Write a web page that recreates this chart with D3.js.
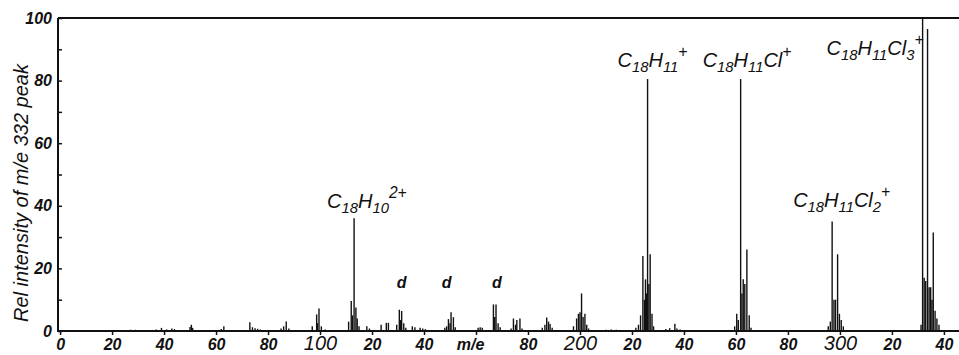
<!DOCTYPE html>
<html>
<head>
<meta charset="utf-8">
<script src="https://cdn.jsdelivr.net/npm/d3@7"></script>
<style>
  body { margin: 0; background: #fff; }
  svg { display: block; }
  text { font-family: "Liberation Sans", Arial, sans-serif; font-style: italic; fill: #111; }
</style>
</head>
<body>
<div id="chart"></div>
<script>
// peak positions (m/e) and relative intensities
const masses = [
  27, 29, 37, 39, 41, 43, 44, 50, 50.5, 51, 62, 63,
  73, 74, 75, 76, 77, 85, 86, 87, 88,
  97, 98.7, 99, 99.6, 100.5, 102,
  111, 112, 112.5, 113.1, 113.8, 114.3, 115,
  118, 119, 123.5, 125.5, 126.3,
  129.5, 130.5, 131, 131.4, 132.2, 133,
  135.5, 136.5, 138.5, 139.5, 140.5,
  148, 148.7, 149.4, 150, 150.4, 151.3, 152,
  160.8, 161.6, 162.4,
  166.7, 167.2, 167.7, 168.5, 169.3,
  173.5, 174.4, 175.2, 175.7, 176.9, 177.7,
  185.5, 186.5, 187.2, 187.9, 188.5, 189.3,
  197.5, 198.7, 199.4, 200, 200.6, 201.2, 201.9, 202.6, 203.3,
  210, 212, 214,
  221.5, 222.5, 223.3, 224.2, 224.8, 225.2, 225.6, 226.0, 226.5, 227, 227.7, 228.3,
  233, 234.5, 236.5, 237.3, 238.5,
  259.5, 260.3, 260.9, 261.8, 262.3, 262.8, 263.4, 264.2, 265.1, 265.8,
  295.5, 296.3, 297.0, 297.7, 298.3, 299.1, 299.8, 300.5, 301.3,
  331.2, 331.8, 332.4, 333.0, 333.7, 334.3, 334.9, 335.4, 335.9, 336.6, 337.3, 338.1
];
const intensities = [
  0.4, 0.4, 0.5, 1.0, 0.5, 0.8, 0.6, 1.3, 2.0, 1.0, 0.6, 1.5,
  2.8, 1.2, 0.9, 0.7, 0.5, 0.8, 1.5, 3.0, 0.8,
  1.5, 5.3, 2.5, 7.2, 1.5, 0.5,
  3, 9.6, 5, 36, 7.5, 4, 1.5,
  1.5, 0.8, 2, 2.6, 2.6,
  2, 6.8, 3.5, 6.4, 2.5, 1,
  1.5, 1.2, 1, 0.8, 0.6,
  1, 1.5, 3.8, 2.5, 6, 4.4, 1.2,
  1, 1.2, 1,
  8.5, 4.5, 8.5, 2.5, 1.2,
  0.8, 4, 2, 3.5, 4, 0.8,
  1, 2, 4.3, 3, 2.2, 1,
  1.5, 4, 5.5, 6, 12, 4.5, 5.5, 2, 0.8,
  0.4, 0.5, 0.4,
  1, 2, 5, 24, 10, 16.5, 12, 80.5, 15, 24.5, 5.5, 1.5,
  0.6, 0.9, 2.3, 0.8, 0.5,
  1.5, 5.5, 3.5, 80.5, 12, 16.5, 15, 26, 5, 1,
  1.5, 3, 35, 10, 10, 24.5, 5.5, 3.5, 1.5,
  2, 100, 17, 16, 96.5, 14, 14, 10, 31.5, 6.5, 4, 2
];

const xTicks = d3.range(0, 341, 20);
const xTickLabels = ["0", "20", "40", "60", "80", "100", "20", "40", "m/e",
                     "80", "200", "20", "40", "60", "80", "300", "20", "40"];
const yTicks = [0, 20, 40, 60, 80, 100];

const ionLabels = ["C18H10^2+", "C18H11+", "C18H11Cl+", "C18H11Cl2+", "C18H11Cl3+"];
const ionMasses = [113.1, 226.0, 261.8, 297.0, 331.8];
const dMasses = [131.4, 148.7, 168];

const width = 959, height = 355;
const margin = { top: 18, left: 58, bottom: 24 };

const x = d3.scaleLinear().domain([-0.8, 345.8]).range([margin.left, width]);
const y = d3.scaleLinear().domain([0, 100]).range([height - margin.bottom, margin.top]);

const svg = d3.select('#chart').append('svg')
  .attr('width', width)
  .attr('height', height);

// spectrum lines
svg.append('g')
  .selectAll('line')
  .data(masses.map((m, i) => ({ m, v: intensities[i] })))
  .join('line')
  .attr('x1', d => x(d.m))
  .attr('x2', d => x(d.m))
  .attr('y1', y(0))
  .attr('y2', d => y(d.v))
  .attr('stroke', '#111')
  .attr('stroke-width', 1.4);

const big = d => d % 100 === 0 && d > 0;

// x axis
svg.append('g')
  .attr('transform', `translate(0,${y(0)})`)
  .call(d3.axisBottom(x).tickValues(xTicks).tickSize(4).tickFormat((d, i) => xTickLabels[i]))
  .call(g => g.select('.domain').attr('stroke', '#111').attr('stroke-width', 2).attr('d', `M${margin.left},0H${width}`))
  .call(g => g.selectAll('.tick line').attr('stroke', '#111').attr('stroke-width', 1.5))
  .call(g => g.selectAll('.tick text')
    .attr('fill', '#111')
    .attr('dy', null)
    .attr('y', 19)
    .style('font-family', '"Liberation Sans", Arial, sans-serif')
    .style('font-style', 'italic')
    .style('font-weight', d => big(d) ? 'normal' : 'bold')
    .style('font-size', d => big(d) ? '20px' : '16px'))
  .call(g => g.selectAll('.tick text').filter(d => d === 160).attr('dx', -6));

// y axis
svg.append('g')
  .attr('transform', `translate(${margin.left},0)`)
  .call(d3.axisLeft(y).tickValues(d3.range(0, 101, 10)).tickSize(-4)
    .tickFormat(d => yTicks.includes(d) ? d : ''))
  .call(g => g.select('.domain').attr('stroke', '#111').attr('stroke-width', 2).attr('d', `M0,${y(100)}V${y(0) + 1}`))
  .call(g => g.selectAll('.tick line').attr('stroke', '#111').attr('stroke-width', 1.5))
  .call(g => g.selectAll('.tick text')
    .attr('fill', '#111')
    .attr('x', -6)
    .style('font-family', '"Liberation Sans", Arial, sans-serif')
    .style('font-style', 'italic')
    .style('font-weight', 'bold')
    .style('font-size', '16px'));

// top frame line
svg.append('line')
  .attr('x1', margin.left).attr('x2', width)
  .attr('y1', y(100)).attr('y2', y(100))
  .attr('stroke', '#111').attr('stroke-width', 2);

// y axis title
svg.append('text')
  .attr('transform', `translate(28,193) rotate(-90)`)
  .attr('text-anchor', 'middle')
  .style('font-size', '20px')
  .text('Rel intensity of m/e 332 peak');

// ion formula labels
function formula(parent, str, size) {
  const [base, sup] = str.includes('^') ? str.split('^') : [str.replace(/\+$/, ''), '+'];
  const parts = base.match(/[A-Z][a-z]?|\d+/g);
  const t = parent.append('text').style('font-size', size + 'px');
  let shift = 0;
  parts.forEach(p => {
    const isNum = /\d/.test(p);
    const target = isNum ? size * 0.25 : 0;
    t.append('tspan')
      .attr('dy', target - shift)
      .style('font-size', (isNum ? size * 0.74 : size) + 'px')
      .text(p);
    shift = target;
  });
  t.append('tspan')
    .attr('dy', -size * 0.5 - shift)
    .style('font-size', size * 0.78 + 'px')
    .text(sup);
  return t;
}

// label offsets relative to the peak they name: [dx, gap above peak top]
const labelLayout = [[-27, 10], [-30, 12], [-38, 12], [-39, 14], [-96, -37]];
ionLabels.forEach((s, i) => {
  const px = x(ionMasses[i]);
  const py = y(intensities[masses.indexOf(ionMasses[i])]);
  formula(svg, s, 20)
    .attr('x', px + labelLayout[i][0])
    .attr('y', py - labelLayout[i][1]);
});

// "d" markers
svg.append('g')
  .selectAll('text')
  .data(dMasses)
  .join('text')
  .attr('x', d => x(d))
  .attr('y', 288)
  .attr('text-anchor', 'middle')
  .style('font-size', '16px')
  .style('font-weight', 'bold')
  .text('d');
</script>
</body>
</html>
